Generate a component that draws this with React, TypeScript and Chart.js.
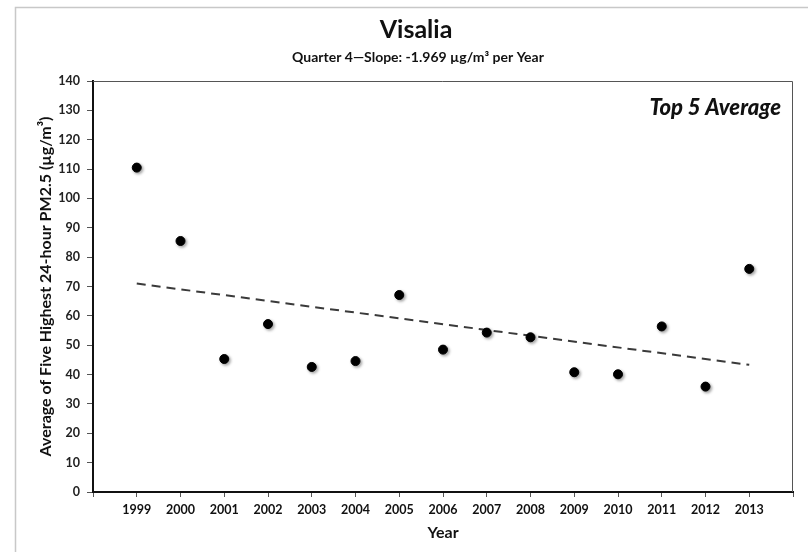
import React, { useEffect, useRef } from "react";
import { Chart, registerables } from "chart.js";

Chart.register(...registerables);

const years: number[] = [1999, 2000, 2001, 2002, 2003, 2004, 2005, 2006, 2007, 2008, 2009, 2010, 2011, 2012, 2013];
const top5Average: number[] = [110.5, 85.5, 45.3, 57.2, 42.6, 44.6, 67.1, 48.5, 54.3, 52.7, 40.8, 40.1, 56.4, 35.9, 76.0];
const titleText = "Visalia";
const subtitleText = "Quarter 4\u2014Slope: -1.969 \u00b5g/m\u00b3 per Year";
const yTitleText = "Average of Five Highest 24-hour PM2.5 (\u00b5g/m\u00b3)";
const xTitleText = "Year";
const badgeText = "Top 5 Average";

const FONT = "Lato, 'Open Sans', sans-serif";

function regression(xs: number[], ys: number[]) {
  const n = xs.length;
  const mx = xs.reduce((a, b) => a + b, 0) / n;
  const my = ys.reduce((a, b) => a + b, 0) / n;
  let sxy = 0, sxx = 0;
  for (let i = 0; i < n; i++) {
    sxy += (xs[i] - mx) * (ys[i] - my);
    sxx += (xs[i] - mx) ** 2;
  }
  const b = sxy / sxx;
  return (x: number) => my + b * (x - mx);
}

export default function App() {
  const ref = useRef<HTMLCanvasElement>(null);
  useEffect(() => {
    if (!ref.current) return;
    const fit = regression(years, top5Average);
    const first = years[0];
    const last = years[years.length - 1];

    const decor = {
      id: "decor",
      beforeDraw(chart: any) {
        const { ctx, width, height } = chart;
        ctx.save();
        ctx.fillStyle = "#ffffff";
        ctx.fillRect(0, 0, width, height);
        ctx.strokeStyle = "#c8c8c8";
        ctx.lineWidth = 1.5;
        ctx.beginPath();
        ctx.moveTo(15.5, height);
        ctx.lineTo(15.5, 7.5);
        ctx.lineTo(width, 7.5);
        ctx.stroke();
        ctx.restore();
      },
      afterDraw(chart: any) {
        const { ctx, chartArea: ca } = chart;
        ctx.save();
        ctx.strokeStyle = "#555";
        ctx.lineWidth = 1;
        ctx.beginPath();
        ctx.moveTo(ca.left, ca.top + 0.5);
        ctx.lineTo(ca.right - 0.5, ca.top + 0.5);
        ctx.lineTo(ca.right - 0.5, ca.bottom);
        ctx.stroke();
        ctx.fillStyle = "#111";
        ctx.textAlign = "center";
        ctx.textBaseline = "middle";
        ctx.font = `bold 25px ${FONT}`;
        ctx.fillText(titleText, 416, 30);
        ctx.font = `bold 14px ${FONT}`;
        ctx.fillText(subtitleText, 418, 57);
        ctx.textAlign = "right";
        ctx.font = `italic 900 22px ${FONT}`;
        ctx.fillText(badgeText, 781, 108);
        ctx.textAlign = "center";
        ctx.font = `bold 16px ${FONT}`;
        ctx.fillText(xTitleText, 443, 533);
        ctx.translate(46, (ca.top + ca.bottom) / 2);
        ctx.rotate(-Math.PI / 2);
        ctx.font = `bold 16px ${FONT}`;
        ctx.fillText(yTitleText, 0, 0);
        ctx.restore();
      },
    };

    const shadow = {
      id: "shadow",
      beforeDatasetDraw(chart: any, args: any) {
        if (args.index !== 0) return;
        const ctx = chart.ctx;
        ctx.save();
        ctx.shadowColor = "rgba(0,0,0,0.35)";
        ctx.shadowBlur = 3;
        ctx.shadowOffsetX = 1.5;
        ctx.shadowOffsetY = 1.5;
      },
      afterDatasetDraw(chart: any, args: any) {
        if (args.index !== 0) return;
        chart.ctx.restore();
      },
    };

    const chart = new Chart(ref.current, {
      type: "scatter",
      data: {
        datasets: [
          {
            label: "Top 5 Average",
            data: years.map((x, i) => ({ x, y: top5Average[i] })),
            backgroundColor: "#000",
            borderColor: "#000",
            pointRadius: 4.5,
            pointHoverRadius: 4.5,
          },
          {
            type: "line" as any,
            label: "Trend",
            data: [
              { x: first, y: fit(first) },
              { x: last, y: fit(last) },
            ],
            borderColor: "#3a3a3a",
            borderWidth: 2,
            borderDash: [9, 6],
            pointRadius: 0,
            fill: false,
          } as any,
        ],
      },
      options: {
        responsive: false,
        animation: false,
        layout: { padding: { top: 81, right: 15, left: 0, bottom: 0 } },
        plugins: { legend: { display: false }, tooltip: { enabled: false }, title: { display: false } },
        scales: {
          x: {
            type: "linear",
            min: 1998,
            max: 2014,
            afterFit(s: any) { s.height = 60; },
            ticks: {
              stepSize: 1,
              autoSkip: false,
              maxRotation: 0,
              padding: 5,
              color: "#111",
              font: { family: FONT, size: 12.5, weight: "bold" },
              callback: (v: any) => (v === 1998 || v === 2014 ? "" : String(v)),
            },
            grid: { drawOnChartArea: false, tickLength: 5, color: "#555" },
            border: { color: "#111", width: 2 },
          },
          y: {
            min: 0,
            max: 140,
            afterFit(s: any) { s.width = 93; },
            ticks: {
              stepSize: 10,
              padding: 7,
              color: "#222",
              font: { family: FONT, size: 12.5, weight: "bold" },
            },
            grid: { drawOnChartArea: false, tickLength: 6, color: "#555" },
            border: { color: "#111", width: 2 },
          },
        },
      },
      plugins: [decor, shadow],
    });
    return () => chart.destroy();
  }, []);

  return (
    <div style={{ position: "absolute", left: 0, top: 0, width: 808, height: 552 }}>
      <canvas ref={ref} width={808} height={552} style={{ display: "block" }} />
    </div>
  );
}
